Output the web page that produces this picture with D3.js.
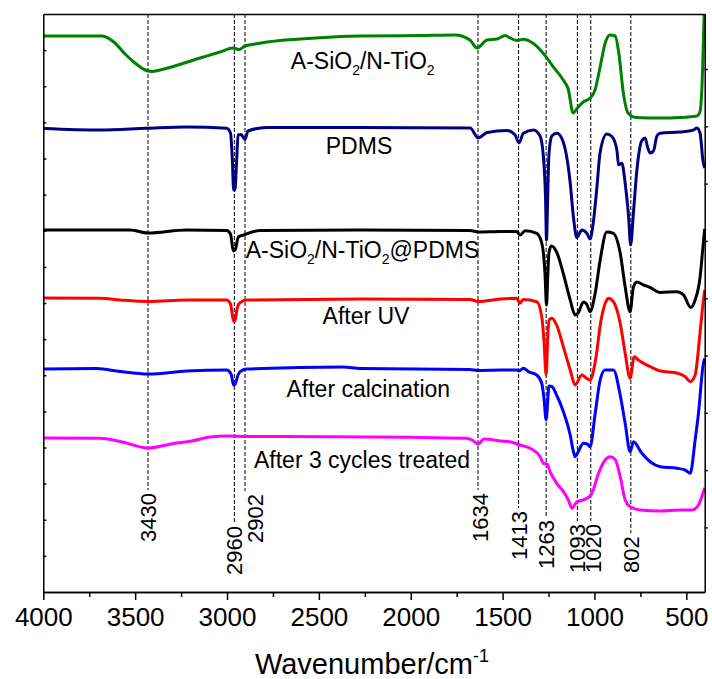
<!DOCTYPE html>
<html>
<head>
<meta charset="utf-8">
<script src="https://cdn.jsdelivr.net/npm/d3@7"></script>
<style>
  body { margin: 0; background: #fff; }
  text { font-family: Arial, "Liberation Sans", sans-serif; fill: #000; }
</style>
</head>
<body>
<div id="chart"></div>
<script>
// FTIR spectra, stacked (transmittance, a.u.), wavenumber in cm-1

var sampleNames = ["A-SiO{2}/N-TiO{2}", "PDMS", "A-SiO{2}/N-TiO{2}@PDMS",
                   "After UV", "After calcination", "After 3 cycles treated"];

var peaks = [3430, 2960, 2902, 1634, 1413, 1263, 1093, 1020, 802];

var xTicks = [4000, 3500, 3000, 2500, 2000, 1500, 1000, 500];
var xMinorTicks = [3750, 3250, 2750, 2250, 1750, 1250, 750];

// [wavenumber, transmittance]
var aSiO2NTiO2 = [[4000,55.6],[3680,55.6],[3610,54.9],[3555,53.8],[3501,52.9],[3445,52.2],[3408,52.05],
  [3365,52.2],[3147,53.4],[3038,54.0],[2967,54.4],[2935,54.25],[2902,54.6],[2848,54.8],[2782,55.0],
  [2602,55.3],[2423,55.5],[2276,55.6],[1949,55.65],[1759,55.7],[1678,55.2],[1639,54.4],[1585,55.2],
  [1530,55.3],[1486,55.65],[1459,55.4],[1421,55.15],[1388,55.27],[1334,54.87],[1279,53.87],[1225,52.53],
  [1170,51.2],[1143,50.3],[1116,47.9],[1094,48.37],[1061,49.0],[1024,49.37],[997,50.2],[969,52.53],
  [942,54.87],[915,55.7],[888,55.6],[866,53.7],[845,50.2],[817,47.9],[774,47.45],[643,47.4],[534,47.45],
  [443,47.6],[426,48.0],[415,50.5],[403,57.8]];

var pdms = [[4000,46.35],[3691,46.2],[3437,46.37],[3219,46.5],[3002,46.37],[2981,45.9],[2971,43.2],
  [2964,40.2],[2957,40.2],[2948,43.0],[2940,45.7],[2924,45.75],[2902,45.25],[2886,46.1],[2784,46.45],
  [2276,46.45],[1677,46.4],[1633,45.4],[1584,45.95],[1477,46.15],[1432,45.7],[1411,44.9],[1387,45.87],
  [1332,46.2],[1296,45.6],[1278,43.53],[1266,39.2],[1261,35.2],[1255,39.2],[1248,43.7],[1232,45.6],
  [1205,45.87],[1178,45.37],[1150,43.4],[1132,40.9],[1114,37.4],[1096,35.45],[1069,36.2],[1041,35.87],
  [1024,35.3],[1006,37.0],[987,40.4],[969,44.0],[933,45.8],[905,45.55],[878,44.2],[869,42.7],[851,42.87],
  [833,40.9],[815,37.7],[803,34.7],[788,37.9],[769,42.2],[742,45.15],[724,45.4],[711,44.5],[697,43.9],
  [679,44.1],[660,45.6],[642,45.87],[533,46.0],[461,46.2],[443,46.4],[425,45.87],[410,43.2],[400,42.4]];

var composite = [[4000,36.2],[3528,36.2],[3430,35.9],[3219,36.2],[3002,36.15],[2981,35.8],[2966,34.1],
  [2956,34.2],[2938,35.5],[2911,35.7],[2820,36.15],[2276,36.2],[1677,36.15],[1633,36.0],[1513,36.05],
  [1423,36.05],[1405,35.7],[1377,36.13],[1314,35.87],[1287,34.9],[1278,33.9],[1269,31.7],[1261,28.7],
  [1254,31.7],[1248,33.9],[1235,34.6],[1205,33.95],[1169,31.8],[1132,29.2],[1105,27.7],[1089,27.9],
  [1060,29.0],[1040,28.7],[1024,28.03],[996,29.9],[969,33.2],[933,36.0],[897,35.87],[860,33.9],
  [833,30.53],[806,28.03],[788,30.5],[769,31.0],[733,30.7],[697,30.45],[642,29.95],[551,30.03],
  [515,29.7],[476,28.45],[452,29.2],[425,31.5],[411,34.2],[400,36.3]];

var afterUV = [[4000,29.4],[3691,29.37],[3582,29.2],[3428,29.05],[3219,29.2],[3002,29.2],[2981,28.8],
  [2964,27.05],[2956,27.2],[2943,28.5],[2929,28.93],[2893,29.2],[2276,29.3],[1677,29.25],[1633,29.05],
  [1513,29.3],[1423,29.37],[1407,28.87],[1387,29.25],[1314,29.03],[1287,27.53],[1275,25.2],[1263,21.7],
  [1255,25.2],[1247,27.2],[1232,27.37],[1205,26.65],[1169,24.5],[1132,22.2],[1105,20.7],[1069,21.7],
  [1045,21.4],[1024,21.2],[996,23.0],[964,27.2],[933,29.2],[924,29.37],[897,29.03],[860,26.87],
  [833,23.87],[806,21.37],[784,23.53],[761,23.2],[697,22.53],[642,22.1],[551,21.9],[506,21.53],
  [479,21.03],[452,21.7],[425,26.0],[407,29.2],[400,30.2]];

var afterCalcination = [[4000,22.3],[3709,22.35],[3582,22.05],[3428,21.8],[3219,22.1],[3002,22.2],
  [2978,21.8],[2964,20.7],[2956,20.8],[2940,21.7],[2929,22.03],[2893,22.3],[2368,22.5],[2276,22.35],
  [1677,22.25],[1633,22.15],[1513,22.2],[1423,22.2],[1411,22.1],[1387,22.37],[1359,22.03],[1314,21.7],
  [1287,20.87],[1275,19.4],[1263,17.2],[1254,19.2],[1248,20.6],[1232,20.55],[1205,19.65],[1169,18.03],
  [1132,15.7],[1114,14.0],[1105,13.53],[1089,14.0],[1060,14.87],[1040,14.8],[1024,14.53],[996,17.87],
  [969,21.2],[942,22.2],[897,22.2],[860,19.7],[833,16.87],[806,14.03],[788,15.03],[742,13.87],
  [697,13.03],[642,12.53],[551,12.37],[506,12.2],[479,11.87],[452,15.2],[434,17.87],[407,22.87],[400,23.34]];

var after3Cycles = [[4000,15.4],[3691,15.37],[3582,15.05],[3430,14.4],[3291,14.85],[3192,15.1],
  [3092,15.5],[2994,15.6],[2893,15.55],[2494,15.53],[1998,15.47],[1699,15.37],[1666,15.2],[1633,14.8],
  [1601,15.3],[1513,15.1],[1459,15.03],[1405,14.7],[1350,14.37],[1296,13.53],[1277,12.85],[1259,12.8],
  [1241,12.0],[1205,10.87],[1169,10.03],[1142,9.2],[1123,8.37],[1096,9.0],[1041,9.37],[1014,9.87],
  [978,11.87],[942,13.2],[915,13.53],[887,13.25],[860,11.53],[833,9.2],[806,8.53],[751,8.2],[642,8.1],
  [533,8.2],[470,8.2],[434,8.7],[407,10.03],[400,10.42]];

var allSeries = [aSiO2NTiO2, pdms, composite, afterUV, afterCalcination, after3Cycles];
var colors = ["#008000", "#000080", "#000000", "#ff0000", "#0000ff", "#ff00ff"];

// layout
var W = 712, H = 679;
var margin = { left: 43.3, right: 7.3, top: 14, bottom: 87 };
var width = W - margin.left - margin.right,
    height = H - margin.top - margin.bottom;

// label placement (plot coords): [centre x, baseline y]
var labelPos = [[319.4, 54.5], [315.7, 140.3], [319.2, 244.3], [322.7, 310.3], [325, 382.7], [318.7, 453.5]];
// peak labels: bottom end of rotated text, small sideways nudge, gap left above text
var peakLabelBottom = [528, 561, 529, 528, 546, 555, 559, 559, 559];
var peakLabelShift = [0, 0, 10.5, 2, 1, 0.5, 0, 3, 0];

var svg = d3.select("#chart").append("svg")
    .attr("width", W)
    .attr("height", H)
  .append("g")
    .attr("transform", "translate(" + margin.left + "," + margin.top + ")");

var x = d3.scaleLinear().domain([4000, 400]).range([0, width]);
var y = d3.scaleLinear().domain([0, 57.8]).range([height, 0]);

// dashed peak markers
peaks.forEach(function(p, i){
    var px = x(p);
    var label = svg.append("text")
        .attr("transform", "translate(" + (px + peakLabelShift[i]) + "," + peakLabelBottom[i] + ") rotate(-90)")
        .attr("dy", "0.35em")
        .attr("font-size", "22px")
        .attr("text-anchor", "start")
        .text(p);
    var len = label.node().getComputedTextLength();
    svg.append("line")
        .attr("x1", px).attr("x2", px)
        .attr("y1", 0).attr("y2", peakLabelBottom[i] - len - 3)
        .attr("stroke", "#000")
        .attr("stroke-width", 1)
        .attr("stroke-dasharray", "4,2");
});

// spectra
var line = d3.line()
    .x(function(d){ return x(d[0]); })
    .y(function(d){ return y(d[1]); })
    .curve(d3.curveMonotoneX);

allSeries.forEach(function(s, i){
    svg.append("path")
        .datum(s)
        .attr("fill", "none")
        .attr("stroke", colors[i])
        .attr("stroke-width", 3)
        .attr("stroke-linejoin", "round")
        .attr("d", line);
});

// sample labels with subscripts
sampleNames.forEach(function(name, i){
    var t = svg.append("text")
        .attr("x", labelPos[i][0])
        .attr("y", labelPos[i][1])
        .attr("font-size", "23px")
        .attr("text-anchor", "middle");
    var parts = name.split(/(\{[^}]*\})/).filter(function(s){ return s !== ""; });
    var shift = 0;
    parts.forEach(function(part){
        if (part[0] === "{") {
            t.append("tspan").attr("dy", 6 - shift).attr("font-size", "14px").text(part.slice(1, -1));
            shift = 6;
        } else {
            t.append("tspan").attr("dy", -shift).text(part);
            shift = 0;
        }
    });
});

// axes
var xAxis = svg.append("g")
    .attr("transform", "translate(0," + height + ")")
    .call(d3.axisBottom(x).tickValues(xTicks).tickFormat(d3.format("d"))
        .tickSize(8).tickPadding(8).tickSizeOuter(0));
xAxis.selectAll("text").attr("font-size", "26px").attr("font-family", "Arial, 'Liberation Sans', sans-serif");

svg.append("g")
    .attr("transform", "translate(0," + height + ")")
    .call(d3.axisBottom(x).tickValues(xMinorTicks).tickSize(5).tickFormat("").tickSizeOuter(0));

svg.append("g")
    .call(d3.axisLeft(y).tickValues(d3.range(1, 16).map(function(k){ return k * 57.8 / 16; }))
        .tickSize(-3).tickFormat("").tickSizeOuter(0));

svg.append("g")
    .attr("transform", "translate(" + width + ",0)")
    .call(d3.axisRight(y).tickValues(d3.range(0, 9).map(function(k){ return 6.46 + k * 5.73; }))
        .tickSize(3).tickFormat("").tickSizeOuter(0));

svg.append("g")
    .call(d3.axisTop(x).tickValues([]).tickSizeOuter(0));

svg.selectAll(".domain").attr("stroke-width", 1.5);
svg.selectAll(".tick line").attr("stroke-width", 1.5);

// axis title
var title = svg.append("text")
    .attr("x", width / 2 - 2)
    .attr("y", 660)
    .attr("font-size", "29px")
    .attr("text-anchor", "middle");
title.append("tspan").text("Wavenumber/cm");
title.append("tspan").attr("dy", -12).attr("font-size", "18px").text("-1");
</script>
</body>
</html>
